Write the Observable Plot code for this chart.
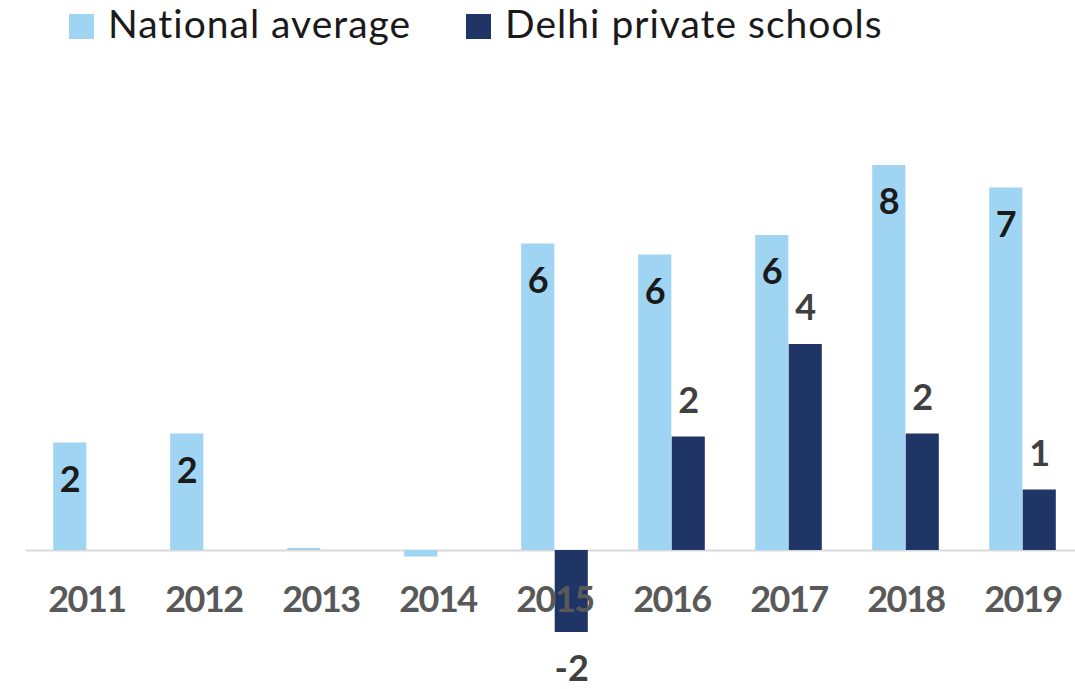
<!DOCTYPE html>
<html>
<head>
<meta charset="utf-8">
<script src="https://cdn.jsdelivr.net/npm/d3@7"></script>
<script src="https://cdn.jsdelivr.net/npm/@observablehq/plot@0.6"></script>
<style>
  html, body { margin: 0; padding: 0; background: #fff; overflow: hidden; }
  #legend { position: relative; height: 50px; display: flex; align-items: flex-start; padding-left: 69px; gap: 55px; font-family: Lato, sans-serif; font-size: 39px; color: #1a1a1a; letter-spacing: 1px; }
  #legend .item { display: flex; align-items: flex-start; }
  #legend .sw { width: 25px; height: 25px; margin-top: 14px; margin-right: 14px; flex: none; }
  #legend .lab { line-height: normal; white-space: nowrap; }
  .xlab text { letter-spacing: -1.5px; }
</style>
</head>
<body>
<div id="legend"></div>
<div id="chart"></div>
<script>
const years = ["2011", "2012", "2013", "2014", "2015", "2016", "2017", "2018", "2019"];
const nationalAverage = [2.15, 2.33, 0.04, -0.13, 6.13, 5.91, 6.3, 7.7, 7.25];
const delhiPrivate = [null, null, null, null, -1.64, 2.27, 4.12, 2.33, 1.21];
const seriesNames = ["National average", "Delhi private schools"];
const seriesColors = ["#9fd5f3", "#1f3566"];

// legend
const legend = document.getElementById("legend");
seriesNames.forEach((name, i) => {
  const item = document.createElement("div");
  item.className = "item";
  const sw = document.createElement("div");
  sw.className = "sw";
  sw.style.background = seriesColors[i];
  const lab = document.createElement("span");
  lab.className = "lab";
  lab.textContent = name;
  item.appendChild(sw);
  item.appendChild(lab);
  legend.appendChild(item);
});

const nat = years.map((year, i) => ({year, value: nationalAverage[i]}));
const del = years.map((year, i) => ({year, value: delhiPrivate[i]})).filter(d => d.value != null);
const fmt = d => String(Math.round(d.value));
const barW = 33.5;
const step = 117.4;
const inset = (step - barW) / 2;
const off = barW / 2;

const labelStyle = {fontSize: 36, fontWeight: "bold", lineAnchor: "middle"};

const chart = Plot.plot({
  width: 1075,
  height: 639,
  marginLeft: 25.8,
  marginRight: -7.4,
  marginTop: 100,
  marginBottom: 39,
  style: {fontFamily: "Lato, sans-serif", background: "#fff", overflow: "hidden"},
  x: {domain: years, padding: 0, axis: null},
  y: {domain: [-2, 8], axis: null},
  marks: [
    Plot.ruleY([0], {stroke: "#d9d9d9", strokeWidth: 2}),
    Plot.barY(nat, {x: "year", y: "value", fill: seriesColors[0], insetLeft: inset, insetRight: inset, dx: -off}),
    Plot.barY(del, {x: "year", y: "value", fill: seriesColors[1], insetLeft: inset, insetRight: inset, dx: off}),
    Plot.axisX({label: null, tickSize: 0, tickPadding: 0, dy: -50, lineAnchor: "middle", fontSize: 36, fontWeight: "bold", fill: "#595959", className: "xlab"}),
    Plot.text(nat.filter(d => Math.round(d.value) !== 0), {x: "year", y: "value", text: fmt, dx: -off, dy: 37, fill: "#1a1a1a", ...labelStyle}),
    Plot.text(del.filter(d => d.value >= 0), {x: "year", y: "value", text: fmt, dx: off, dy: -36, fill: "#404040", ...labelStyle}),
    Plot.text(del.filter(d => d.value < 0), {x: "year", y: "value", text: fmt, dx: off, dy: 37, fill: "#404040", ...labelStyle})
  ]
});
document.getElementById("chart").appendChild(chart);
</script>
</body>
</html>
